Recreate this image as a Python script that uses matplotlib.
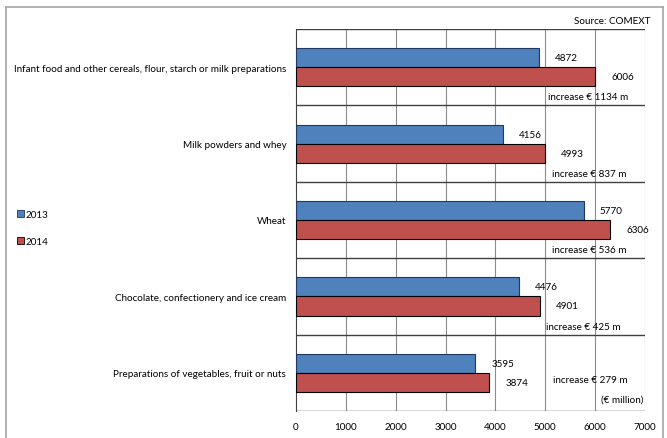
import matplotlib
matplotlib.use("Agg")
import matplotlib.pyplot as plt
from matplotlib.patches import Patch
from matplotlib.lines import Line2D

plt.rcParams['font.family'] = ['Lato', 'DejaVu Sans']

categories = [
    "Infant food and other cereals, flour, starch or milk preparations",
    "Milk powders and whey",
    "Wheat",
    "Chocolate, confectionery and ice cream",
    "Preparations of vegetables, fruit or nuts",
]
values_2013 = [4872, 4156, 5770, 4476, 3595]
values_2014 = [6006, 4993, 6306, 4901, 3874]
years = ["2013", "2014"]
xticks = [0, 1000, 2000, 3000, 4000, 5000, 6000, 7000]

blue = "#4F81BD"
red = "#C0504D"
fs = 7.1

fig = plt.figure(figsize=(6.67, 4.39), dpi=100)
ax = fig.add_axes([296 / 667, 1 - 412 / 439, 349 / 667, 382 / 439])

pos = list(range(len(categories)))
h = 0.25
ax.barh([p - h / 2 for p in pos], values_2013, height=h, color=blue,
        edgecolor="#1F3864", linewidth=0.8, zorder=3)
ax.barh([p + h / 2 for p in pos], values_2014, height=h, color=red,
        edgecolor="black", linewidth=0.8, zorder=3)

ax.set_xlim(0, 7000)
ax.set_ylim(len(categories) - 0.5, -0.5)

# vertical grid
for x in xticks[1:]:
    ax.axvline(x, color="#8C8C8C", linewidth=0.8, zorder=1)
# category separators
for p in range(len(categories) + 1):
    ax.axhline(p - 0.5, color="#404040", linewidth=1.0, zorder=2)

for s in ["top", "right", "bottom"]:
    ax.spines[s].set_visible(False)
ax.spines["left"].set_color("#404040")

ax.set_yticks(pos)
ax.set_yticklabels(categories, fontsize=fs)
ax.set_xticks(xticks)
ax.set_xticklabels([str(x) for x in xticks], fontsize=fs)
ax.tick_params(axis="y", length=0, pad=7)
ax.tick_params(axis="x", length=0, pad=8)

# value labels
for p, a, b in zip(pos, values_2013, values_2014):
    ax.annotate(str(a), (a, p - h / 2), xytext=(11.5, 0), textcoords="offset points",
                va="center", ha="left", fontsize=fs)
    ax.annotate(str(b), (b, p + h / 2), xytext=(11.5, 0), textcoords="offset points",
                va="center", ha="left", fontsize=fs)

# increase labels
inc_pos = [(5050, 0.39), (5130, 0.39), (5130, 0.39), (5010, 0.39), (5150, 0.09)]
for p, a, b, (ix, dy) in zip(pos, values_2013, values_2014, inc_pos):
    ax.text(ix, p + dy, "increase \u20ac %d m" % (b - a), va="center", ha="left",
            fontsize=fs, zorder=4)

ax.text(6960, 4.35, "(\u20ac million)", va="center", ha="right", fontsize=fs)
fig.text(650 / 667, 1 - 21 / 439, "Source: COMEXT", ha="right", va="center", fontsize=fs)

# legend
handles = [Patch(facecolor=blue, edgecolor="#1F3864", linewidth=0.6),
           Patch(facecolor=red, edgecolor="black", linewidth=0.6)]
fig.legend(handles, years, loc="center left", bbox_to_anchor=(12 / 667, 1 - 229 / 439),
           frameon=False, fontsize=fs, handlelength=0.7, handleheight=0.7,
           handletextpad=0.2, labelspacing=1.9, borderpad=0)

# outer frame
frame_c = "#A6A6A6"
fig.add_artist(Line2D([6 / 667, 6 / 667], [0, 1 - 8 / 439], color=frame_c, lw=1.2,
                      transform=fig.transFigure))
fig.add_artist(Line2D([6 / 667, 663 / 667], [1 - 8 / 439, 1 - 8 / 439], color=frame_c, lw=1.2,
                      transform=fig.transFigure))
fig.add_artist(Line2D([663 / 667, 663 / 667], [0, 1 - 8 / 439], color=frame_c, lw=1.2,
                      transform=fig.transFigure))

fig.savefig("out.png", dpi=100)
